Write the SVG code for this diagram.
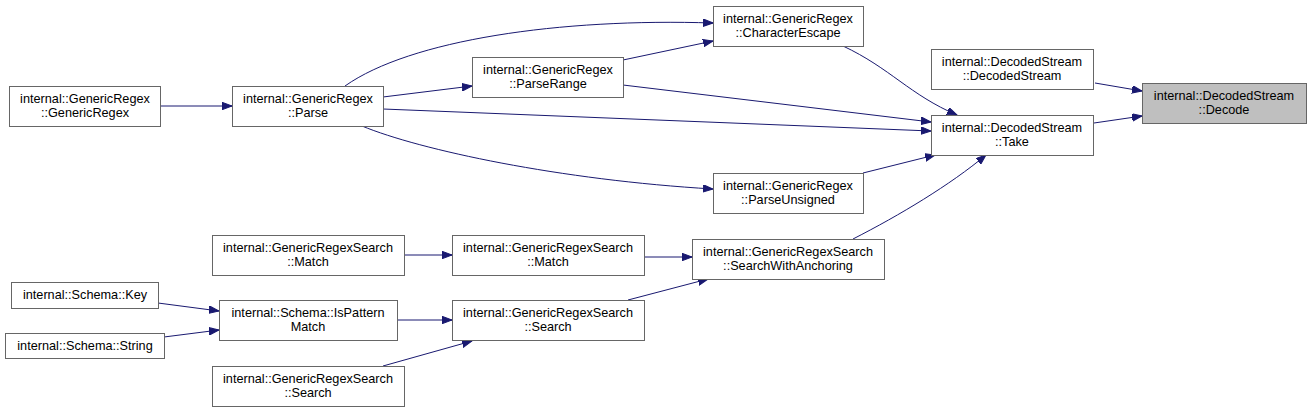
<svg xmlns="http://www.w3.org/2000/svg" width="1311" height="412" viewBox="0 0 1311 412">
<defs>
<marker id="arr" markerUnits="userSpaceOnUse" markerWidth="11" markerHeight="8" refX="10" refY="3.75" orient="auto">
<path d="M0,0 L10,3.75 L0,7.5 z" fill="#191970" stroke="#191970" stroke-width="1"/>
</marker>
</defs>
<style>
.n rect{fill:#ffffff;stroke:#666666;stroke-width:1}
.n.cur rect{fill:#bfbfbf}
.n text{font-family:"Liberation Sans",Arial,sans-serif;font-size:12.7px;fill:#000;text-anchor:middle}
.e path{fill:none;stroke:#191970;stroke-width:1;marker-end:url(#arr)}
</style>
<rect width="1311" height="412" fill="#ffffff"/>
<g id="connectors" class="e">
<path d="M160,106 L232,106"/>
<path d="M345,86 C410,40 560,18 713,23"/>
<path d="M383,97 L472,86"/>
<path d="M623,60 L713,41"/>
<path d="M383,109 L931,131"/>
<path d="M623,85 L931,122"/>
<path d="M362,126 C420,150 560,180 713,189"/>
<path d="M843,46 C890,68 910,95 957,115"/>
<path d="M863,173 L935,155"/>
<path d="M853,239 C900,215 950,185 986,155"/>
<path d="M1095,83 L1142,91"/>
<path d="M1094,123 L1142,116"/>
<path d="M404,255 L452,255"/>
<path d="M644,257 L692,257"/>
<path d="M628,300 L708,279"/>
<path d="M158,303 L219,311"/>
<path d="M164,337 L219,330"/>
<path d="M397,320 L452,320"/>
<path d="M383,366 L472,341"/>
</g>
<g id="n_GenericRegex" class="n"><rect x="9.5" y="86.5" width="151" height="40"/><text x="85" y="103">internal::GenericRegex</text><text x="85" y="117">::GenericRegex</text></g>
<g id="n_Parse" class="n"><rect x="232.5" y="86.5" width="151" height="40"/><text x="308" y="103">internal::GenericRegex</text><text x="308" y="117">::Parse</text></g>
<g id="n_CharacterEscape" class="n"><rect x="713.5" y="6.5" width="150" height="40"/><text x="788" y="23">internal::GenericRegex</text><text x="788" y="37">::CharacterEscape</text></g>
<g id="n_ParseRange" class="n"><rect x="472.5" y="57.5" width="151" height="40"/><text x="548" y="74">internal::GenericRegex</text><text x="548" y="88">::ParseRange</text></g>
<g id="n_ParseUnsigned" class="n"><rect x="713.5" y="173.5" width="150" height="40"/><text x="788" y="190">internal::GenericRegex</text><text x="788" y="204">::ParseUnsigned</text></g>
<g id="n_DecodedStream" class="n"><rect x="931.5" y="49.5" width="162" height="40"/><text x="1012" y="66">internal::DecodedStream</text><text x="1012" y="80">::DecodedStream</text></g>
<g id="n_Take" class="n"><rect x="931.5" y="115.5" width="162" height="40"/><text x="1012" y="132">internal::DecodedStream</text><text x="1012" y="146">::Take</text></g>
<g id="n_Decode" class="n cur"><rect x="1142.5" y="83.5" width="164" height="40"/><text x="1224" y="100">internal::DecodedStream</text><text x="1224" y="114">::Decode</text></g>
<g id="n_SearchWithAnchoring" class="n"><rect x="692.5" y="239.5" width="192" height="40"/><text x="788" y="256">internal::GenericRegexSearch</text><text x="788" y="270">::SearchWithAnchoring</text></g>
<g id="n_MatchM" class="n"><rect x="452.5" y="235.5" width="192" height="40"/><text x="548" y="252">internal::GenericRegexSearch</text><text x="548" y="266">::Match</text></g>
<g id="n_SearchM" class="n"><rect x="452.5" y="300.5" width="192" height="40"/><text x="548" y="317">internal::GenericRegexSearch</text><text x="548" y="331">::Search</text></g>
<g id="n_MatchL" class="n"><rect x="212.5" y="235.5" width="192" height="40"/><text x="308" y="252">internal::GenericRegexSearch</text><text x="308" y="266">::Match</text></g>
<g id="n_IsPatternMatch" class="n"><rect x="219.5" y="300.5" width="178" height="40"/><text x="308" y="317">internal::Schema::IsPattern</text><text x="308" y="331">Match</text></g>
<g id="n_Key" class="n"><rect x="11.5" y="282.5" width="147" height="26"/><text x="85" y="299">internal::Schema::Key</text></g>
<g id="n_String" class="n"><rect x="5.5" y="333.5" width="159" height="25"/><text x="85" y="350">internal::Schema::String</text></g>
<g id="n_SearchL" class="n"><rect x="212.5" y="366.5" width="192" height="40"/><text x="308" y="383">internal::GenericRegexSearch</text><text x="308" y="397">::Search</text></g>
</svg>
